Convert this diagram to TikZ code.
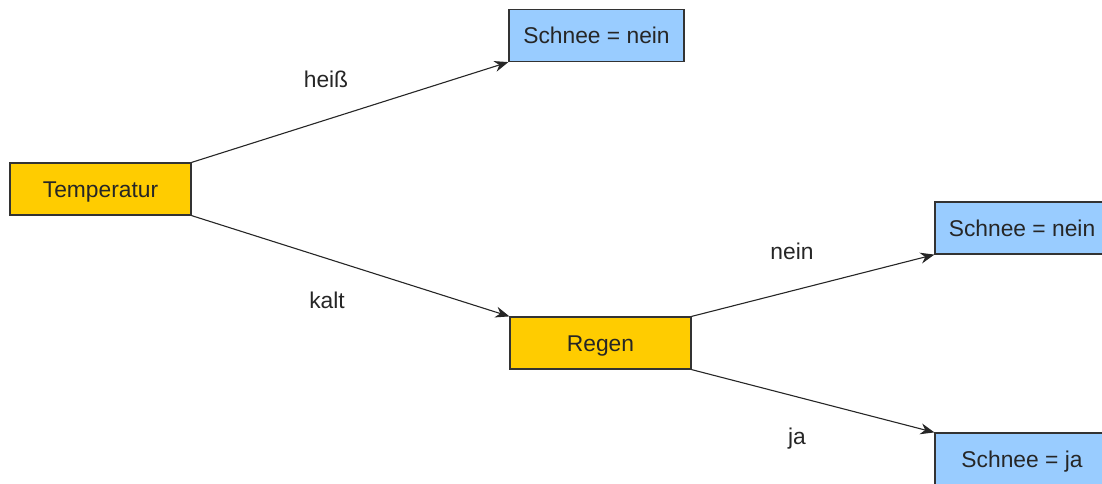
\documentclass[tikz,border=0pt]{standalone}
\usepackage{fontspec}
\setmainfont{Liberation Sans}
\usetikzlibrary{arrows.meta}

\definecolor{testgelb}{HTML}{FFCC00}
\definecolor{blattblau}{HTML}{99CCFF}
\definecolor{randgrau}{HTML}{333333}

\begin{document}
\begin{tikzpicture}[
  x=0.5pt, y=-0.5pt,
  box/.style={rectangle, draw=randgrau, line width=0.6pt, minimum width=90.5pt, minimum height=26pt, inner sep=0pt, text height=8.2pt, text depth=0pt, font=\fontsize{11.4}{13}\selectfont, text=black!85, fill=#1},
  arr/.style={-{Stealth[length=7pt, width=5.5pt]}, line width=0.55pt, black!85},
  lbl/.style={font=\fontsize{11.4}{13}\selectfont, text=black!85}
]
  \useasboundingbox (0,0) rectangle (1102,483);

  \node[box=testgelb] (temp) at (100.5,189) {Temperatur};
  \node[box=blattblau, minimum width=87.5pt] (nein1) at (596.5,35.5) {Schnee = nein};
  \node[box=testgelb] (regen) at (600.5,343) {Regen};
  \node[box=blattblau, minimum width=87pt] (nein2) at (1022,228) {Schnee = nein};
  \node[box=blattblau, minimum width=87pt] (ja) at (1022,459) {Schnee = ja};

  \draw[arr] (temp.north east) -- (nein1.south west);
  \draw[arr] (temp.south east) -- (regen.north west);
  \draw[arr] (regen.north east) -- (nein2.south west);
  \draw[arr] (regen.south east) -- (ja.north west);

  \node[lbl] (lheiss) at (326,79) {heiß};
  \node[lbl] (lkalt) at (327,300) {kalt};
  \node[lbl] (lnein) at (792,251) {nein};
  \node[lbl] (lja) at (797,439) {ja};

\end{tikzpicture}
\end{document}
